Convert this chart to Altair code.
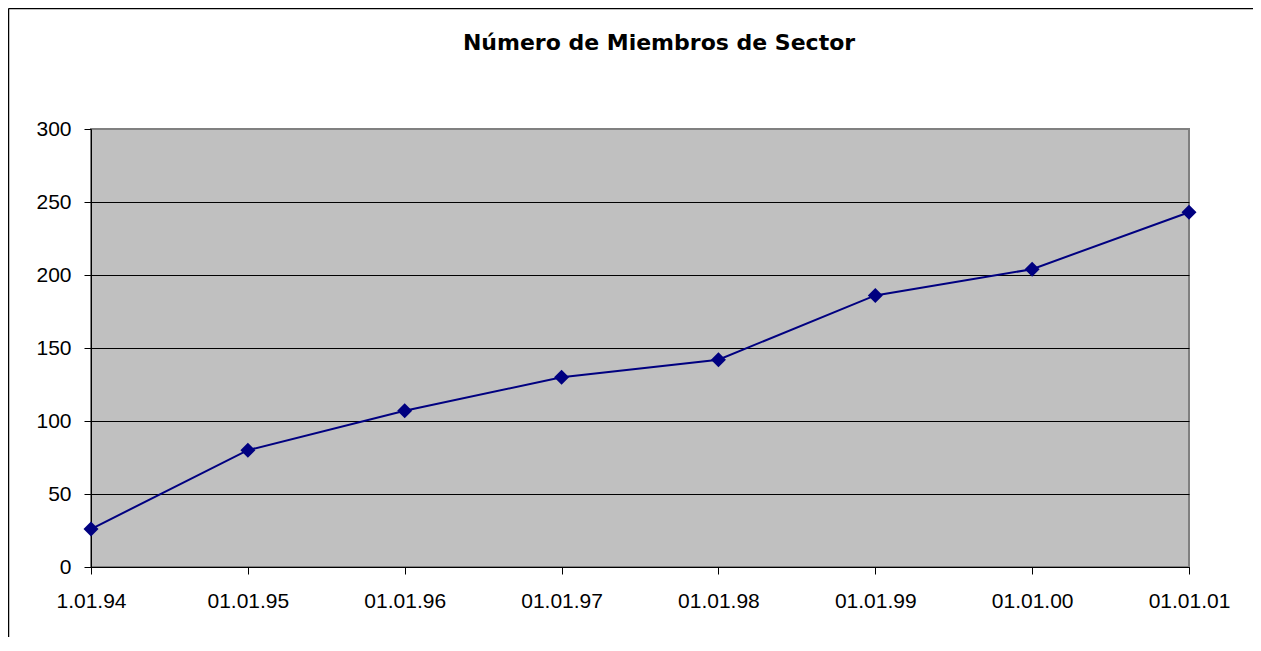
import altair as alt
import pandas as pd

# ---- data ----
dates = ["1.01.94", "01.01.95", "01.01.96", "01.01.97",
         "01.01.98", "01.01.99", "01.01.00", "01.01.01"]
members = [26, 80, 107, 130, 142, 186, 204, 243]
y_ticks = [0, 50, 100, 150, 200, 250, 300]
title_text = "Número de Miembros de Sector"

df = pd.DataFrame({"fecha": dates, "miembros": members})

W, H = 1098, 438
PL, PT, PR, PB = 83, 121, 64, 70
FONT = "Liberation Sans"
NAVY = "#000080"

x_enc = alt.X(
    "fecha:N",
    sort=dates,
    scale=alt.Scale(type="point", padding=0),
    axis=alt.Axis(
        title=None, labelAngle=0, labelFontSize=21, labelFont=FONT,
        labelColor="black", tickSize=7, tickColor="black", tickWidth=1,
        domainColor="black", domainWidth=1, labelPadding=16,
        labelOverlap=False, grid=False,
    ),
)
y_enc = alt.Y(
    "miembros:Q",
    scale=alt.Scale(domain=[0, 300], nice=False, zero=True),
    axis=alt.Axis(
        values=y_ticks, title=None, labelFontSize=21, labelFont=FONT,
        labelColor="black", tickSize=7, tickColor="black", tickWidth=1,
        domainColor="black", domainWidth=1, labelPadding=13,
        grid=True, gridWidth=1,
        gridColor=alt.condition("datum.value == 300", alt.value("#808080"), alt.value("black")),
    ),
)

base = alt.Chart(df).encode(x=x_enc, y=y_enc)
line = base.mark_line(color=NAVY, strokeWidth=2)
points = base.mark_point(shape="diamond", filled=True, size=225, color=NAVY, opacity=1)

title = alt.Chart(pd.DataFrame({"t": [title_text]})).mark_text(
    fontSize=22, fontWeight="bold", font="DejaVu Sans", align="center",
    baseline="alphabetic", color="black"
).encode(x=alt.value(568), y=alt.value(-79), text="t:N")

deco = pd.DataFrame({"a": [0]})
frame_top = alt.Chart(deco).mark_rule(color="black", strokeWidth=1.5).encode(
    x=alt.value(-82.5), x2=alt.value(W + PR), y=alt.value(-120.5), y2=alt.value(-120.5)
)
frame_left = alt.Chart(deco).mark_rule(color="black", strokeWidth=1.5).encode(
    x=alt.value(-82.5), x2=alt.value(-82.5), y=alt.value(-120.5), y2=alt.value(H + PB)
)

chart = alt.layer(frame_top, frame_left, title, line, points).properties(
    width=W, height=H,
    autosize=alt.AutoSizeParams(type="none"),
    padding={"left": PL, "top": PT, "right": PR, "bottom": PB},
    background="white",
).configure_view(
    fill="#C0C0C0", stroke="#808080", strokeWidth=2
)

chart.save("out.html", embed_options={"renderer": "svg", "actions": False})
